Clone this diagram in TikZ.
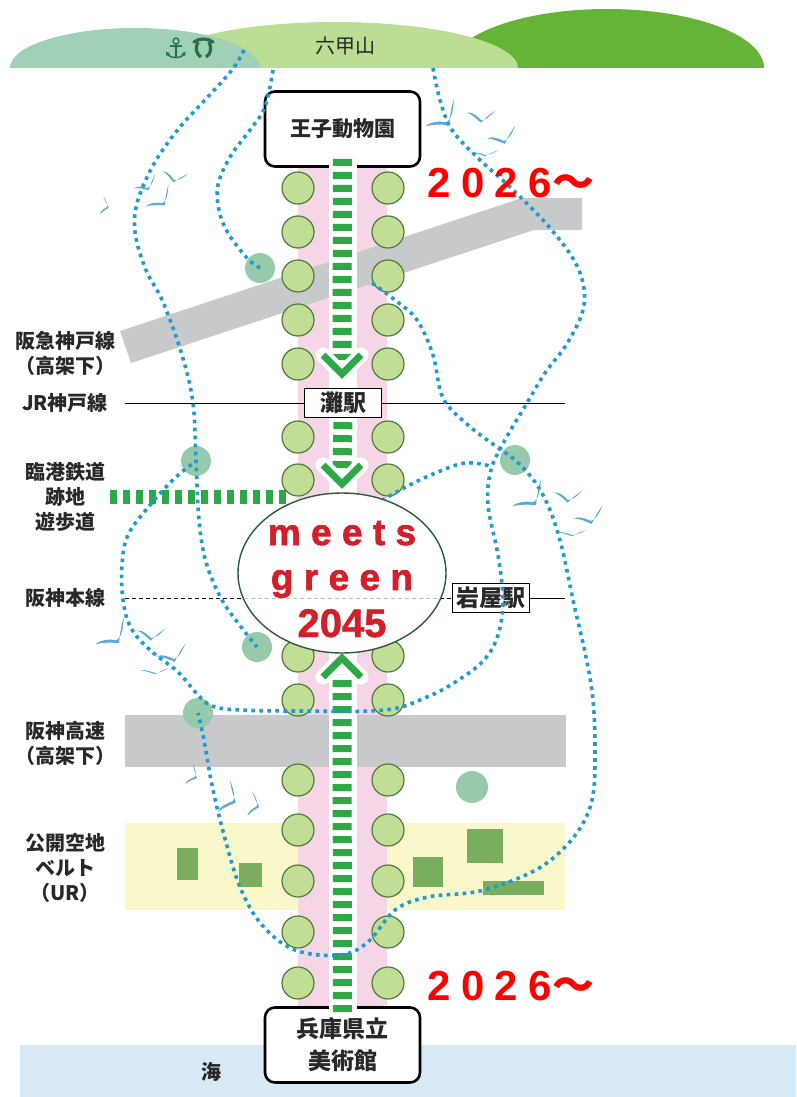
\documentclass[tikz,border=0pt]{standalone}
\usepackage{fontspec}
\usepackage{tikz}
\usetikzlibrary{positioning,shapes,calc}
\newfontfamily\jpFont{Noto Sans CJK JP}
\newfontfamily\symbolFont{DejaVu Sans}
\newfontfamily\plainSans{Liberation Sans}[FakeBold=1.2]
\newfontfamily\hubFont{Liberation Sans}[LetterSpace=28, FakeBold=1.8]
\newfontfamily\yearFont{Liberation Sans}[LetterSpace=25]
\definecolor{hillTeal}{RGB}{160,208,182}
\definecolor{hillLight}{RGB}{188,221,148}
\definecolor{hillDark}{RGB}{100,180,56}
\definecolor{seaBlue}{RGB}{214,233,244}
\definecolor{railGray}{RGB}{200,201,202}
\definecolor{parkPink}{RGB}{246,214,230}
\definecolor{beltYellow}{RGB}{250,247,202}
\definecolor{plotGreen}{RGB}{121,174,94}
\definecolor{treeFill}{RGB}{194,221,150}
\definecolor{treeLine}{RGB}{80,122,62}
\definecolor{groveGreen}{RGB}{150,202,170}
\definecolor{flowGreen}{RGB}{46,168,70}
\definecolor{routeBlue}{RGB}{30,155,208}
\definecolor{gullBlue}{RGB}{75,160,212}
\definecolor{hubRed}{RGB}{210,32,42}
\definecolor{hubLine}{RGB}{45,90,55}
\definecolor{labelGray}{RGB}{40,40,40}
\definecolor{emblemGreen}{RGB}{40,110,70}
\definecolor{yearRed}{RGB}{255,0,0}
\tikzset{
    terminal/.style={rectangle, draw=black, fill=white, rounded corners=10pt,
                  line width=2.6pt, minimum width=155pt, minimum height=75pt,
                  inner sep=0pt, align=center, text=labelGray},
    station/.style={rectangle, draw=black, fill=white, line width=1.2pt,
                  minimum width=77pt, minimum height=29pt, inner sep=2pt,
                  text=labelGray, font=\jpFont\bfseries\fontsize{23}{26}\selectfont},
    sideLabel/.style={align=center, text=labelGray,
                  font=\jpFont\bfseries\fontsize{20}{25}\selectfont},
    tree/.style={circle, draw=treeLine, fill=treeFill, line width=1.2pt,
                  minimum size=32pt, inner sep=0pt},
    grove/.style={circle, fill=groveGreen, minimum size=30pt, inner sep=0pt},
    hub/.style={ellipse, draw=hubLine, fill=white, line width=1.4pt,
                  minimum width=208pt, minimum height=160pt, inner sep=0pt},
    hubText/.style={anchor=base, text=hubRed,
                  font=\hubFont\bfseries\fontsize{37}{37}\selectfont},
    flow/.style={draw=flowGreen, line width=19pt, dash pattern=on 7pt off 6pt},
    promenade/.style={draw=flowGreen, line width=14pt, dash pattern=on 7pt off 6pt},
    chevron/.style={draw=flowGreen, line width=7pt},
    chevronHalo/.style={draw=white, line width=15pt, line cap=round},
    route/.style={draw=routeBlue, line width=3.6pt, dash pattern=on 3.6pt off 4.4pt},
    rail/.style={draw=black, line width=1pt},
    yearText/.style={anchor=base west, inner sep=0pt, text=yearRed,
                  font=\yearFont\bfseries\fontsize{42}{42}\selectfont},
    gull/.pic={
        \fill[gullBlue, opacity=0.9] (0,0) .. controls (-5,-4) and (-10,-8) .. (-16,-7)
            .. controls (-10,-5) and (-5,-1) .. (0,3)
            .. controls (4,-2) and (9,-7) .. (15,-12)
            .. controls (9,-4) and (4,0) .. (0,0) -- cycle;
    },
    flock/.pic={
        \pic[rotate=35, scale=1.25] at (0,0) {gull};
        \pic[rotate=-5, scale=0.9] at (34,-2) {gull};
        \pic[rotate=15] at (57,19) {gull};
        \pic[yscale=0.45, scale=0.9] at (38,33) {gull};
    }
}

\begin{document}
\begin{tikzpicture}[x=1pt, y=-1pt]
  \useasboundingbox (0,0) rectangle (796,1097);
  \fill[white] (0,0) rectangle (796,1097);

  % mountains and sea
  \fill[hillDark] (450,68) arc[start angle=180, end angle=360, x radius=157, y radius=59] -- cycle;
  \fill[hillLight] (152,68) arc[start angle=180, end angle=360, x radius=183, y radius=46] -- cycle;
  \fill[hillTeal] (10,68) arc[start angle=180, end angle=360, x radius=125, y radius=40] -- cycle;
  \fill[seaBlue] (20,1045) rectangle (796,1097);

  % open space belt
  \fill[beltYellow] (125,823) rectangle (565,910);
  \foreach \xa/\ya/\xb/\yb in {177/848/198/880, 239/863/262/887, 413/857/443/887,
                               467/829/503/863, 483/881/544/895}
    \fill[plotGreen] (\xa,\ya) rectangle (\xb,\yb);

  % green axis and elevated lines
  \fill[parkPink] (298,167) rectangle (387,1007);
  \fill[railGray] (120,331) -- (522,198) -- (582,198) -- (582,230) -- (534,230) -- (131,363) -- cycle;
  \fill[railGray] (125,715) rectangle (566,767);

  \node[terminal, font=\jpFont\bfseries\fontsize{21}{26}\selectfont] (zoo) at (342.5,129) {王子動物園};
  \node[terminal, font=\jpFont\bfseries\fontsize{23}{32}\selectfont] (museum) at (342.5,1045) {兵庫県立\\美術館};
  \fill[white] (329,158) rectangle (357,1016);

  % railways
  \coordinate (jrWest) at (125,403);
  \coordinate (jrEast) at (565,403);
  \draw[rail] (jrWest) -- (jrEast);
  \node[station] (nada) at (343,403) {灘駅};
  \coordinate (hsWest) at (125,598);
  \coordinate (hsEast) at (565,598);
  \node[station] (iwaya) at (491,598) {岩屋駅};
  \draw[rail, dash pattern=on 4pt off 3pt] (hsWest) -- (iwaya.west);
  \draw[rail] (iwaya.east) -- (hsEast);

  % promenade on the old harbour line
  \coordinate (promWest) at (110,497);
  \coordinate (promEast) at (292,497);
  \draw[promenade] (promWest) -- (promEast);

  % groves
  \node[grove] (grove1) at (260,268) {};
  \node[grove] (grove2) at (196,461) {};
  \node[grove] (grove3) at (515,460) {};
  \node[grove] (grove4) at (257,647) {};
  \node[grove] (grove5) at (198,713) {};
  \node[grove, minimum size=32pt] (grove6) at (472,787) {};

  % street trees
  \foreach \y in {188,232,276,320,364,437,480,656,700,780,830,881,932,983}{
    \node[tree] (treeW\y) at (298,\y) {};
    \node[tree] (treeE\y) at (388,\y) {};
  }

  % flows along the axis
  \coordinate (tipA) at (342,374);
  \coordinate (tipB) at (342,484);
  \coordinate (tipC) at (342,658);
  \draw[flow] ([yshift=9pt]zoo.south) -- ([yshift=14pt]tipA);
  \draw[flow] ([yshift=-4pt]nada.south) -- ([yshift=14pt]tipB);
  \draw[flow] ([yshift=-6pt]museum.north) -- ([yshift=-16pt]tipC);
  \foreach \t in {tipA,tipB}{
    \draw[chevronHalo] (\t) ++(-19,-19) -- (\t) -- ++(19,-19);
    \draw[chevron] (\t) ++(-19,-19) -- (\t) -- ++(19,-19);
  }
  \draw[chevronHalo] (tipC) ++(-19,19) -- (tipC) -- ++(19,19);
  \draw[chevron] (tipC) ++(-19,19) -- (tipC) -- ++(19,19);

  % walking routes
  \draw[route] plot[smooth, tension=0.6] coordinates {(433,68) (440,100) (452,130) (480,160)
    (510,187) (550,228) (578,268) (584,305) (568,342) (545,373) (527,403) (505,440) (491,470)
    (488,505) (498,555) (503,600) (498,635) (484,660) (457,681) (427,697) (385,710) (300,711)
    (240,710) (212,706) (198,695) (178,672) (150,650) (131,628) (123,600) (122,565) (128,535)
    (150,505) (175,478) (grove2.center)};
  \draw[route] plot[smooth, tension=0.6] coordinates {(372,283) (395,300) (417,320) (433,355)
    (443,398) (468,425) (497,447) (grove3.center) (535,482) (550,510) (562,548) (573,600)
    (586,657) (593,700) (595,750) (593,795) (582,825) (560,852) (530,873) (480,891) (428,897)
    (395,910) (368,942) (340,955) (295,950) (262,925) (240,887) (224,835) (212,785) (204,740)
    (grove5.center)};
  \draw[route] plot[smooth, tension=0.6] coordinates {(244,50) (232,70) (205,100) (180,127)
    (155,162) (138,200) (135,232) (146,270) (163,302) (182,355) (193,403) (grove2.center)
    (199,520) (206,562) (222,600) (245,632) (grove4.center)};
  \draw[route] plot[smooth, tension=0.6] coordinates {(273,70) (265,107) (250,130) (230,157)
    (218,185) (219,210) (228,233) (247,258) (grove1.center)};
  \draw[route] plot[smooth, tension=0.6] coordinates {(375,505) (400,490) (433,474) (465,463)
    (490,466)};

  % meets green hub
  \node[hub] (hub) at (342,573) {};
  \begin{scope}
    \clip (hub.center) ellipse[x radius=102, y radius=78];
    \draw[draw=black!25, line width=0.9pt, dash pattern=on 4pt off 3pt] (hsWest) -- (hsEast);
  \end{scope}
  \node[hubText] (hubWordA) at (342,545) {meets};
  \node[hubText] (hubWordB) at (342,590) {green};
  \node[anchor=base, text=hubRed, font=\plainSans\bfseries\fontsize{40}{40}\selectfont] (hubYear) at (342,637) {2045};

  % gulls
  \pic at (447,122) {flock};
  \pic at (534,502) {flock};
  \pic at (117,640) {flock};
  \pic[rotate=70, scale=0.6] at (107,207) {gull};
  \pic[rotate=25, scale=0.8] at (148,188) {gull};
  \pic[rotate=-15, scale=0.8] at (174,180) {gull};
  \pic[rotate=35] at (163,203) {gull};
  \pic[rotate=60, scale=0.7] at (195,777) {gull};
  \pic[rotate=60, scale=1.1] at (233,801) {gull};
  \pic[rotate=70, scale=0.8] at (257,806) {gull};

  % labels
  \node[sideLabel] (hankyuLabel) at (65,353) {阪急神戸線\\（高架下）};
  \node[sideLabel] (jrLabel) at (65,403) {JR神戸線};
  \node[sideLabel] (rinkoLabel) at (65,497) {臨港鉄道\\跡地\\遊歩道};
  \node[sideLabel] (hanshinLabel) at (65,598) {阪神本線};
  \node[sideLabel] (expressLabel) at (65,743) {阪神高速\\（高架下）};
  \node[sideLabel] (beltLabel) at (65,868) {公開空地\\ベルト\\（UR）};
  \node[sideLabel] (seaLabel) at (211,1072) {海};
  \node[text=labelGray, font=\jpFont\fontsize{20}{20}\selectfont] (rokkoLabel) at (345,46) {六甲山};

  \node[yearText] (openNorth) at (427,197) {2026{\jpFont ～}};
  \node[yearText] (openSouth) at (427,1000) {2026{\jpFont ～}};

  % port symbols on the hill
  \node[text=emblemGreen, font=\symbolFont\fontsize{28}{28}\selectfont] (anchorMark) at (176,48) {⚓};
  \draw[emblemGreen, line width=3.2pt, line cap=round] (194,42) .. controls (199,38) and (208,38) .. (213,42);
  \draw[emblemGreen, line width=3.2pt] (198,42) .. controls (195,48) and (196,54) .. (201,57);
  \draw[emblemGreen, line width=3.2pt] (209,42) .. controls (212,48) and (211,54) .. (206,57);
\end{tikzpicture}
\end{document}
